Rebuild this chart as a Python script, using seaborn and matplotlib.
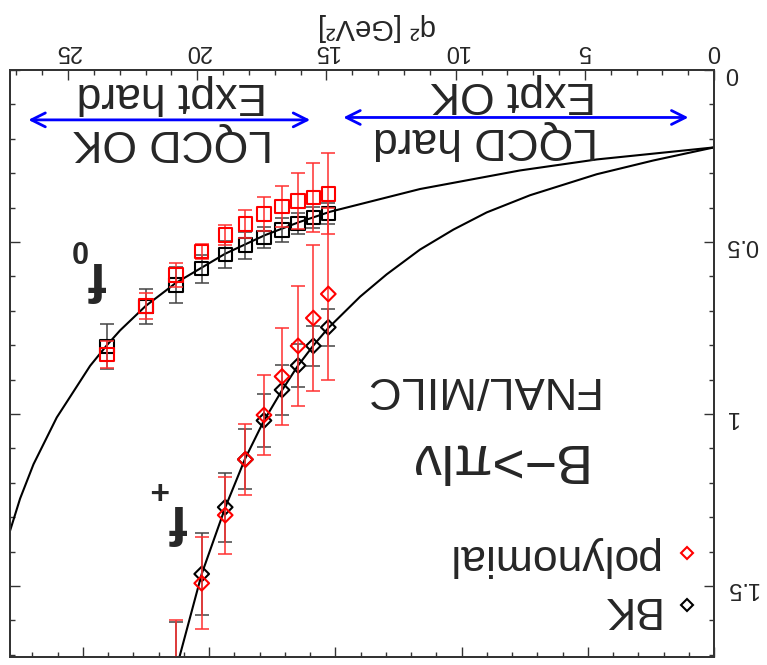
import matplotlib
matplotlib.use('Agg')
import matplotlib.pyplot as plt
from matplotlib.ticker import MultipleLocator
from matplotlib.lines import Line2D
import seaborn as sns

# lattice q^2 points [GeV^2]
q2 = [14.93, 15.51, 16.10, 16.72, 17.42, 18.14, 18.92, 19.83, 20.83, 21.99, 23.50]

# f0 (squares)
f0_bk = [0.417, 0.429, 0.446, 0.465, 0.487, 0.509, 0.537, 0.578, 0.625, 0.688, 0.804]
f0_bk_err = [0.03, 0.03, 0.03, 0.035, 0.03, 0.039, 0.04, 0.04, 0.053, 0.051, 0.065]
f0_poly = [0.360, 0.370, 0.381, 0.397, 0.419, 0.448, 0.480, 0.528, 0.596, 0.686, 0.827]
f0_poly_err = [0.118, 0.10, 0.081, 0.06, 0.05, 0.041, 0.03, 0.022, 0.034, 0.039, 0.04]

# f+ (diamonds), first 9 q^2 points
fp_bk = [0.748, 0.802, 0.859, 0.930, 1.019, 1.132, 1.271, 1.465, 1.735]
fp_bk_err = [0.054, 0.059, 0.062, 0.073, 0.078, 0.087, 0.10, 0.118, 0.13]
fp_poly = [0.651, 0.721, 0.802, 0.891, 1.003, 1.132, 1.294, 1.492, 1.74]
fp_poly_err = [0.25, 0.212, 0.174, 0.14, 0.116, 0.104, 0.112, 0.133, 0.14]

# BK fit curves
f0_curve_q2 = [0, 4.54, 7.51, 11.38, 14.86, 16.09, 17.38, 18.92, 20.83, 22.0,
               22.99, 23.50, 24.15, 25.0, 25.44, 26.34, 26.86, 27.25]
f0_curve = [0.225, 0.260, 0.292, 0.346, 0.412, 0.443, 0.480, 0.534, 0.619, 0.686,
            0.757, 0.800, 0.860, 0.959, 1.010, 1.146, 1.246, 1.340]
fp_curve_q2 = [0, 2.35, 4.54, 7.12, 8.80, 10.09, 11.38, 12.67, 13.70, 14.93,
               15.51, 16.11, 16.73, 17.44, 18.15, 18.92, 19.83, 20.69]
fp_curve = [0.225, 0.263, 0.303, 0.364, 0.414, 0.464, 0.522, 0.594, 0.659, 0.750,
            0.801, 0.860, 0.932, 1.022, 1.130, 1.272, 1.465, 1.706]

# regions: [q2 start, q2 end, y]
arrow_lqcd_hard = [0.99, 14.35, 0.138]
arrow_lqcd_ok = [15.63, 26.54, 0.145]

sns.set_style('ticks')
plt.rcParams['font.family'] = ['Liberation Sans', 'DejaVu Sans']

fig = plt.figure(figsize=(7.67, 6.65), dpi=100)
ax = fig.add_axes([0.01304, 0.01203, 0.9179, 0.8827])

# fit curves
sns.lineplot(x=f0_curve_q2, y=f0_curve, color='black', lw=1.5, ax=ax,
             sort=False, estimator=None, zorder=2)
sns.lineplot(x=fp_curve_q2, y=fp_curve, color='black', lw=1.5, ax=ax,
             sort=False, estimator=None, zorder=2)

# error bars
ekw = dict(fmt='none', elinewidth=1.1, capsize=4.7, capthick=1.1)
ax.errorbar(q2, f0_bk, yerr=f0_bk_err, ecolor='#444444', zorder=3, **ekw)
ax.errorbar(q2[:9], fp_bk, yerr=fp_bk_err, ecolor='#444444', zorder=3, **ekw)
ax.errorbar(q2, f0_poly, yerr=f0_poly_err, ecolor='#ff3030', zorder=5, **ekw)
ax.errorbar(q2[:9], fp_poly, yerr=fp_poly_err, ecolor='#ff3030', zorder=5, **ekw)

# markers
sns.scatterplot(x=q2, y=f0_bk, marker='s', s=92, facecolor='none',
                edgecolor='black', linewidth=1.5, ax=ax, zorder=4)
sns.scatterplot(x=q2[:9], y=fp_bk, marker='D', s=56, facecolor='none',
                edgecolor='black', linewidth=1.5, ax=ax, zorder=4)
sns.scatterplot(x=q2, y=f0_poly, marker='s', s=92, facecolor='none',
                edgecolor='red', linewidth=1.5, ax=ax, zorder=6)
sns.scatterplot(x=q2[:9], y=fp_poly, marker='D', s=56, facecolor='none',
                edgecolor='red', linewidth=1.5, ax=ax, zorder=6)

# arrows
for a in (arrow_lqcd_hard, arrow_lqcd_ok):
    ax.annotate('', xy=(a[0], a[2]), xytext=(a[1], a[2]),
                arrowprops=dict(arrowstyle='<->,head_length=0.5,head_width=0.25',
                                color='blue', lw=2, shrinkA=0, shrinkB=0,
                                mutation_scale=20))

# texts (whole figure is upside down)
tkw = dict(rotation=180, ha='center', va='center')
ax.text(8.86, 0.202, 'LQCD hard', fontsize=32, **tkw)
ax.text(7.78, 0.067, 'Expt OK', fontsize=32, **tkw)
ax.text(20.94, 0.209, 'LQCD OK', fontsize=32, **tkw)
ax.text(21.0, 0.072, 'Expt hard', fontsize=32, **tkw)
ax.text(9.1, 0.927, 'FNAL/MILC', fontsize=32.5, **tkw)
ax.text(8.5, 1.128, 'B−>πlν', fontsize=40, **tkw)
ax.text(23.94, 0.600, 'f', fontsize=40, fontweight='bold', **tkw)
ax.text(24.59, 0.517, '0', fontsize=22, fontweight='bold', **tkw)
ax.text(20.80, 1.304, 'f', fontsize=40, fontweight='bold', **tkw)
ax.text(21.54, 1.215, '+', fontsize=24, fontweight='bold', **tkw)

# axes
ax.set_ylim(1.7064, 0)
ax2 = ax.twiny()
ax.set_xlim(27.25, 0)
ax2.set_xlim(27.89, 0)
ax.xaxis.tick_top()
ax.xaxis.set_label_position('top')
ax2.xaxis.tick_bottom()
ax2.tick_params(axis='x', labelbottom=False, labeltop=False)

ax.xaxis.set_major_locator(MultipleLocator(5))
ax.xaxis.set_minor_locator(MultipleLocator(1))
ax2.xaxis.set_major_locator(MultipleLocator(5))
ax2.xaxis.set_minor_locator(MultipleLocator(1))
ax.yaxis.set_major_locator(MultipleLocator(0.5))
ax.yaxis.set_minor_locator(MultipleLocator(0.1))
ax.yaxis.set_major_formatter(plt.FuncFormatter(lambda v, p: f'{v:g}'))

for a in (ax, ax2):
    a.tick_params(which='both', direction='in', width=1, color='#333333')
    a.tick_params(which='major', length=7)
    a.tick_params(which='minor', length=3.5)
ax.tick_params(axis='y', which='both', left=True, right=True,
               labelleft=False, labelright=True)
ax.tick_params(axis='x', labelsize=17, labelrotation=180, pad=6)
ax.tick_params(axis='y', labelsize=17, labelrotation=180, pad=8)
ax.set_xlabel('q² [GeV²]', fontsize=21, rotation=180)
ax.xaxis.set_label_coords(0.521, 1.0596)
ax.set_ylabel('')
for a in (ax, ax2):
    for s in a.spines.values():
        s.set_linewidth(1.3)
        s.set_color('#333333')

# legend
handles = [Line2D([], [], marker='D', ls='none', mfc='none', mec='red', ms=6, mew=1.5),
           Line2D([], [], marker='D', ls='none', mfc='none', mec='black', ms=6, mew=1.5)]
leg = ax.legend(handles, ['polynomial', 'BK'], loc='lower right',
                bbox_to_anchor=(0.978, 0.047), markerfirst=False, frameon=False,
                fontsize=32, handlelength=0.5, handletextpad=0.4,
                labelspacing=0.25, borderpad=0, borderaxespad=0)
for t in leg.get_texts():
    t.set_rotation(180)

fig.savefig('out.png', dpi=100)
